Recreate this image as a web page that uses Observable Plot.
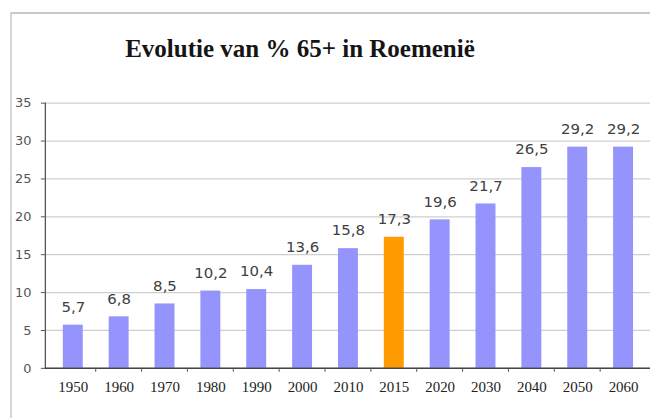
<!DOCTYPE html>
<html>
<head>
<meta charset="utf-8">
<script src="https://cdn.jsdelivr.net/npm/d3@7"></script>
<script src="https://cdn.jsdelivr.net/npm/@observablehq/plot@0.6"></script>
<style>
  html, body { margin: 0; padding: 0; background: #fff; }
  #wrap { position: relative; width: 650px; height: 418px; overflow: hidden; background: #fff; }
  #frame { position: absolute; left: 10px; top: 12px; right: -5px; bottom: -5px;
           border-top: 2px solid #c9c9c9; border-left: 2px solid #d6d6d6; }
  #title { position: absolute; left: 0; width: 600px; top: 35px; text-align: center;
           font-family: "Liberation Serif", serif; font-weight: bold; font-size: 25px; color: #151515; }
  #chart { position: absolute; left: 0; top: 0; }
</style>
</head>
<body>
<div id="wrap">
  <div id="frame"></div>
  <div id="chart"></div>
  <div id="title">Evolutie van % 65+ in Roemenië</div>
</div>
<script>
const years = ["1950","1960","1970","1980","1990","2000","2010","2015","2020","2030","2040","2050","2060"];
const values = [5.7, 6.8, 8.5, 10.2, 10.4, 13.6, 15.8, 17.3, 19.6, 21.7, 26.5, 29.2, 29.2];
const highlightYear = "2015";
const yTicks = [0, 5, 10, 15, 20, 25, 30, 35];

const data = years.map((year, i) => ({year, value: values[i]}));
const fmt = v => v.toFixed(1).replace(".", ",");

const bandTicks = Plot.ruleY([0], {
  render: (index, scales, values, dims) => {
    const x = scales.x, y = scales.y;
    const bw = x.bandwidth ? x.bandwidth() : 0;
    const g = d3.create("svg:g");
    const y0 = y(0);
    for (let i = 1; i < years.length; i++) {
      const px = (x(years[i - 1]) + x(years[i]) + bw) / 2;
      g.append("line").attr("x1", px).attr("x2", px)
        .attr("y1", y0).attr("y2", y0 + 4)
        .attr("stroke", "#555").attr("stroke-width", 1);
    }
    return g.node();
  }
});

const chart = Plot.plot({
  width: 652,
  height: 418,
  marginTop: 103,
  marginBottom: 49,
  marginLeft: 45,
  marginRight: 0,
  style: {background: "transparent", overflow: "visible"},
  x: {domain: years, paddingInner: 0.571, paddingOuter: 0.3, label: null},
  y: {domain: [0, 35], label: null},
  marks: [
    Plot.gridY(yTicks, {stroke: "#cfcfcf", strokeOpacity: 1, strokeWidth: 1.3}),
    Plot.barY(data, {x: "year", y: "value",
      fill: d => d.year === highlightYear ? "#ff9a00" : "#9494fc"}),
    Plot.text(data, {x: "year", y: "value", text: d => fmt(d.value), dy: -18,
      fill: "#404040", fontSize: 15, fontFamily: "DejaVu Sans"}),
    Plot.axisY(yTicks, {tickSize: 4, tickPadding: 10, stroke: "#555", fill: "#555",
      fontSize: 13, fontFamily: "DejaVu Sans", label: null}),
    Plot.axisX({tickSize: 0, tickPadding: 13, fill: "#222", fontSize: 15,
      fontFamily: "Liberation Serif", label: null}),
    Plot.frame({anchor: "left", stroke: "#555", strokeWidth: 1.3}),
    Plot.ruleY([0], {stroke: "#444", strokeWidth: 1.5}),
    bandTicks
  ]
});
document.getElementById("chart").appendChild(chart);
</script>
</body>
</html>
